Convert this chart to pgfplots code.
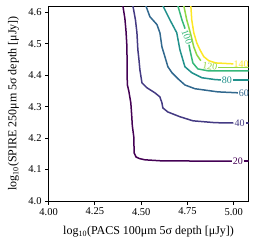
\documentclass[border=0pt]{standalone}
\usepackage{fontspec}
\setmainfont{Liberation Serif}
\usepackage{pgfplots}
\pgfplotsset{compat=1.18}
\definecolor{c20}{HTML}{440154}
\definecolor{c40}{HTML}{443A83}
\definecolor{c60}{HTML}{31688E}
\definecolor{c80}{HTML}{21918C}
\definecolor{c100}{HTML}{35B779}
\definecolor{c120}{HTML}{90D743}
\definecolor{c140}{HTML}{FDE725}
\begin{document}
\fontsize{10}{12}\selectfont
\begin{tikzpicture}
\begin{axis}[
  scale only axis, width=200pt, height=195pt,
  xmin=4, xmax=5.08, ymin=4, ymax=4.62,
  xtick={4,4.25,4.5,4.75,5},
  ytick={4,4.1,4.2,4.3,4.4,4.5,4.6},
  /pgf/number format/assume math mode=true,
  xticklabel style={/pgf/number format/.cd, fixed, fixed zerofill, precision=2},
  yticklabel style={/pgf/number format/.cd, fixed, fixed zerofill, precision=1},
  tick label style={font=\fontsize{10.5}{12}\selectfont},
  label style={font=\fontsize{12}{14}\selectfont},
  tick align=outside, xtick pos=bottom, ytick pos=left,
  major tick length=3.5pt,
  every tick/.style={black, line width=0.8pt},
  axis line style={line width=0.8pt},
  xlabel={log\textsubscript{10}(PACS 100μm 5σ depth [μJy])},
  ylabel={log\textsubscript{10}(SPIRE 250μm 5σ depth [μJy])},
  xlabel style={at={(axis description cs:0.5,-0.159)}, anchor=center},
  ylabel style={at={(axis description cs:-0.175,0.5)}, anchor=center},
  every axis plot/.append style={line width=1.5pt, no marks},
  clip=true,
]
% contour 20
\addplot[c20] coordinates {(4.401,4.621)(4.412,4.58)(4.418,4.54)(4.423,4.49)(4.424,4.417)(4.425,4.37)(4.433,4.35)(4.444,4.312)(4.449,4.27)(4.452,4.24)(4.460,4.204)(4.462,4.153)(4.472,4.140)(4.49,4.135)(4.52,4.131)(4.60,4.128)(4.8,4.127)(4.989,4.127)};
\addplot[c20] coordinates {(5.054,4.127)(5.09,4.127)};
% contour 40
\addplot[c40] coordinates {(4.455,4.621)(4.469,4.576)(4.477,4.535)(4.482,4.481)(4.488,4.449)(4.493,4.417)(4.504,4.376)(4.531,4.360)(4.574,4.344)(4.601,4.331)(4.612,4.312)(4.617,4.296)(4.644,4.283)(4.709,4.268)(4.779,4.255)(4.90,4.249)(4.998,4.248)};
\addplot[c40] coordinates {(5.065,4.248)(5.09,4.248)};
% contour 60
\addplot[c60] coordinates {(4.525,4.621)(4.547,4.586)(4.585,4.561)(4.601,4.535)(4.612,4.490)(4.628,4.459)(4.644,4.427)(4.666,4.408)(4.698,4.389)(4.736,4.369)(4.790,4.357)(4.914,4.347)(5.022,4.344)};
% contour 80
\addplot[c80] coordinates {(4.617,4.621)(4.655,4.576)(4.692,4.535)(4.709,4.481)(4.736,4.427)(4.773,4.408)(4.827,4.392)(4.90,4.386)(4.930,4.385)};
\addplot[c80] coordinates {(4.995,4.385)(5.09,4.385)};
% contour 100
\addplot[c100] coordinates {(4.698,4.621)(4.720,4.576)(4.737,4.548)};
\addplot[c100] coordinates {(4.758,4.497)(4.763,4.481)(4.779,4.439)(4.806,4.420)(4.860,4.414)(5.09,4.414)};
% contour 120
\addplot[c120] coordinates {(4.730,4.621)(4.746,4.576)(4.768,4.529)(4.784,4.490)(4.800,4.465)(4.822,4.446)};
\addplot[c120] coordinates {(4.917,4.424)(5.09,4.424)};
% contour 140
\addplot[c140] coordinates {(4.768,4.621)(4.773,4.576)(4.784,4.535)(4.800,4.503)(4.817,4.481)(4.838,4.459)(4.865,4.446)(4.903,4.439)(4.998,4.436)};
% labels
\node[text=c20, inner sep=0pt] at (axis cs:5.022,4.127) {20};
\node[text=c40, inner sep=0pt] at (axis cs:5.032,4.248) {40};
\node[text=c60, inner sep=0pt] at (axis cs:5.054,4.344) {60};
\node[text=c80, inner sep=0pt] at (axis cs:4.962,4.385) {80};
\node[text=c100, inner sep=0pt, rotate=-70] at (axis cs:4.748,4.521) {100};
\node[text=c120, inner sep=0pt, rotate=-8] at (axis cs:4.871,4.428) {120};
\node[text=c140, inner sep=0pt] at (axis cs:5.040,4.436) {140};
\end{axis}
\pgfresetboundingbox
\useasboundingbox (-48.6pt,-46pt) rectangle (207.4pt,201pt);
\end{tikzpicture}
\end{document}
